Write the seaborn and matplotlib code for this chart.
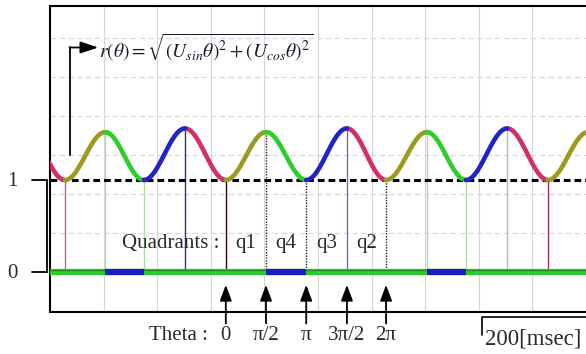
import numpy as np
import pandas as pd
import matplotlib
matplotlib.use("Agg")
import matplotlib.pyplot as plt
import seaborn as sns

# Quadrant boundary times [msec] and r(theta) level reached at each boundary
boundary_t = [-47, 28, 103, 175, 252, 328, 403, 478, 554, 627, 703, 776, 853, 929, 1004]
boundary_r = [1.56, 1.00, 1.52, 1.00, 1.56, 1.00, 1.52, 1.00, 1.56, 1.00, 1.52, 1.00, 1.56, 1.00, 1.52]
# quadrant of each segment between consecutive boundaries
segment_quadrant = ["q2", "q1", "q4", "q3", "q2", "q1", "q4", "q3", "q2", "q1", "q4", "q3", "q2", "q1"]
quadrant_colors = {"q1": "#9d9b1f", "q4": "#2fcc2f", "q3": "#2323c0", "q2": "#d0306c"}

# thin marker lines dropped from r(theta) to the quadrant trace at each boundary
marker_colors = [None, "#c0628f", "#acdcac", "#acdcac", "#30309a", "#2a0a16", "#222222",
                 "#222222", "#6c6cc8", "#222222", "#acdcac", "#acdcac", "#b4b4de", "#a22c62", None]
marker_styles = [None, "-", "-", "-", "-", "-", ":", ":", "-", ":", "-", "-", "-", "-", None]

# digital quadrant trace (level 0): blue while in q4, green otherwise
q4_intervals = [(103, 175), (403, 478), (703, 776)]

theta_ticks = [328, 403, 478, 554, 627]
theta_labels = ["0", "π/2", "π", "3π/2", "2π"]
quadrant_labels = ["q1", "q4", "q3", "q2"]
level_ticks = [1, 0]
level_labels = ["1", "0"]

# screen divisions
time_div = 100
level_div = 0.424

sns.set_theme(style="white")
plt.rcParams["font.family"] = ["Liberation Serif", "DejaVu Serif"]
plt.rcParams["mathtext.fontset"] = "stix"
text_color = "#2a2a2a"
fs = 15

# waveform table, one smooth half-cycle per quadrant segment
rows = []
for k, q in enumerate(segment_quadrant):
    s = np.linspace(0.0, 1.0, 48)
    t0, t1 = boundary_t[k], boundary_t[k + 1]
    r0, r1 = boundary_r[k], boundary_r[k + 1]
    shape = (1 - np.cos(np.pi * s)) / 2
    for tt, rr in zip(t0 + (t1 - t0) * s, r0 + (r1 - r0) * shape):
        rows.append({"t": tt, "r": rr, "quadrant": q, "segment": k})
wave = pd.DataFrame(rows)

fig = plt.figure(figsize=(5.86, 3.54), dpi=100)
ax = fig.add_axes([50 / 586, 42 / 354, 536 / 586, 306 / 354])
ax.set_xlim(0, 1000)
ax.set_ylim(-0.435, 2.891)

# graticule
for x in np.arange(time_div, 1000, time_div):
    ax.axvline(x, color="#d6d6d6", lw=0.8, zorder=0)
for y in np.arange(1, 7) * level_div:
    ax.axhline(y, color="#d6d6d6", lw=0.8, ls=(0, (5, 3)), zorder=0)

# marker lines
for t, r, c, ls in zip(boundary_t, boundary_r, marker_colors, marker_styles):
    if c is None:
        continue
    ax.plot([t, t], [r, 0], color=c, lw=1.0, ls=ls if ls == "-" else (0, (1, 1)), zorder=2)

# reference level r = 1
ax.axhline(1, color="black", lw=2.2, ls=(0, (2.2, 1.3)), zorder=3)

# r(theta) waveform
sns.lineplot(data=wave, x="t", y="r", hue="quadrant", units="segment", estimator=None,
             palette=quadrant_colors, lw=3.3, legend=False, sort=False, ax=ax, zorder=4)
for line in ax.lines[-len(segment_quadrant):]:
    line.set_solid_capstyle("round")

# quadrant trace
ax.plot([0, 1000], [0, 0], color="#2fcc2f", lw=4.5, solid_capstyle="butt", zorder=4)
ax.plot([0, 1000], [0.02, 0.02], color="#1d8f1d", lw=1.0, zorder=4)
for a, b in q4_intervals:
    ax.plot([a, b], [0, 0], color="#1c1cc4", lw=4.5, solid_capstyle="butt", zorder=5)

ax.set_xticks([])
ax.set_yticks([])
ax.set_xlabel("")
ax.set_ylabel("")
for side in ("left", "top", "bottom"):
    ax.spines[side].set_color("black")
    ax.spines[side].set_linewidth(1.5)
ax.spines["right"].set_visible(False)

# level bracket and labels on the left
bx = [-33.6, -5.6]
ax.plot(bx, [level_ticks[0]] * 2, color="black", lw=1.3, clip_on=False)
ax.plot(bx, [level_ticks[1]] * 2, color="black", lw=1.3, clip_on=False)
ax.plot([bx[1], bx[1]], level_ticks, color="black", lw=1.3, clip_on=False)
for v, lab in zip(level_ticks, level_labels):
    ax.text(-70, v - 0.02, lab, ha="center", va="center", fontsize=fs, color=text_color)

# formula and its pointer
ax.plot([37.3, 37.3], [1.27, 2.44], color="black", lw=1.3, zorder=5)
ax.annotate("", xy=(90, 2.44), xytext=(36.6, 2.44),
            arrowprops=dict(arrowstyle="-|>,head_length=0.9,head_width=0.3",
                            color="black", lw=1.3, shrinkA=0, shrinkB=0), zorder=5)
ax.text(92, 2.44, r"$r(\theta)=\sqrt{(U_{sin}\theta)^2+(U_{cos}\theta)^2}$",
        ha="left", va="center", fontsize=14, color="#1a1a2a", zorder=5)

# quadrant labels
ax.text(317, 0.31, "Quadrants :", ha="right", va="center", fontsize=fs, color=text_color)
for a, b, lab in zip(theta_ticks[:-1], theta_ticks[1:], quadrant_labels):
    ax.text((a + b) / 2, 0.31, lab, ha="center", va="center", fontsize=fs, color=text_color)

# theta arrows and labels below the screen
for t, lab in zip(theta_ticks, theta_labels):
    ax.annotate("", xy=(t, -0.14), xytext=(t, -0.56),
                arrowprops=dict(arrowstyle="-|>,head_length=0.8,head_width=0.3",
                                color="black", lw=1.3, shrinkA=0, shrinkB=0),
                annotation_clip=False)
    ax.text(t, -0.59, lab, ha="center", va="top", fontsize=fs, color=text_color)
ax.text(295, -0.59, "Theta :", ha="right", va="top", fontsize=fs, color=text_color)

# time scale bar
ax.plot([806, 806, 1010], [-0.68, -0.49, -0.49], color="black", lw=1.2, clip_on=False)
ax.text(812, -0.615, "200[msec]", ha="left", va="top", fontsize=16.5, color=text_color)

fig.savefig("out.png", dpi=100)
